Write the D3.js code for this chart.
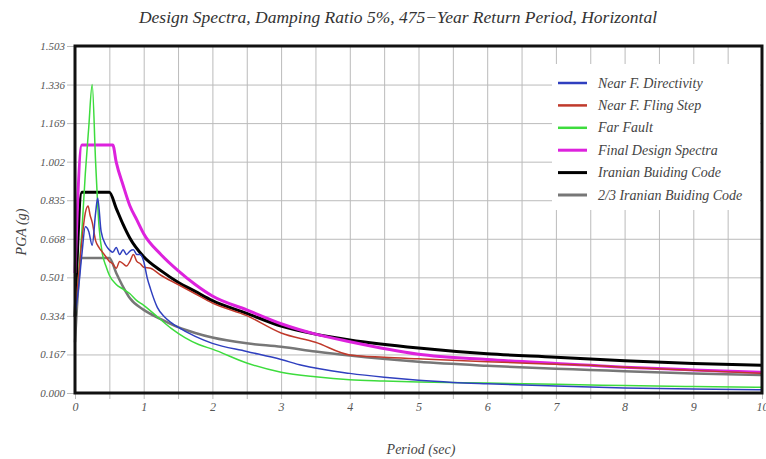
<!DOCTYPE html>
<html>
<head>
<meta charset="utf-8">
<script src="https://cdn.jsdelivr.net/npm/d3@7"></script>
<style>
  body { margin: 0; background: #fff; }
  text { font-family: "Liberation Serif", "DejaVu Serif", serif; font-style: italic; }
</style>
</head>
<body>
<script>
// period values (sec) and spectral values (g)
var periodTicks = [0, 1, 2, 3, 4, 5, 6, 7, 8, 9, 10];
var pgaTicks = [0.000, 0.167, 0.334, 0.501, 0.668, 0.835, 1.002, 1.169, 1.336, 1.503];

var directivityT = [0, 0.05, 0.1, 0.15, 0.2, 0.25, 0.3, 0.33, 0.38, 0.45, 0.5, 0.55, 0.6, 0.65, 0.7, 0.75, 0.8, 0.85, 0.9, 0.95, 1.0, 1.05, 1.1, 1.2, 1.3, 1.4, 1.5, 1.75, 2.0, 2.5, 3.0, 3.3, 4.0, 4.5, 5.0, 5.5, 6.0, 7.0, 8.0, 9.0, 10.0];
var directivityV = [0.34, 0.45, 0.6, 0.72, 0.7, 0.64, 0.78, 0.845, 0.7, 0.64, 0.62, 0.61, 0.63, 0.6, 0.62, 0.6, 0.615, 0.62, 0.6, 0.6, 0.57, 0.5, 0.45, 0.37, 0.33, 0.305, 0.285, 0.245, 0.215, 0.18, 0.145, 0.12, 0.085, 0.068, 0.055, 0.046, 0.04, 0.03, 0.022, 0.017, 0.014];

var flingT = [0, 0.05, 0.1, 0.15, 0.19, 0.22, 0.25, 0.3, 0.35, 0.4, 0.45, 0.5, 0.55, 0.6, 0.65, 0.7, 0.75, 0.8, 0.85, 0.9, 0.95, 1.0, 1.1, 1.25, 1.5, 1.75, 2.0, 2.5, 3.0, 3.5, 4.0, 4.5, 5.0, 6.0, 7.0, 7.5, 8.0, 9.0, 10.0];
var flingV = [0.34, 0.5, 0.66, 0.78, 0.81, 0.77, 0.74, 0.66, 0.63, 0.61, 0.59, 0.57, 0.56, 0.54, 0.57, 0.56, 0.55, 0.57, 0.6, 0.57, 0.56, 0.545, 0.54, 0.51, 0.47, 0.43, 0.39, 0.335, 0.26, 0.22, 0.165, 0.155, 0.148, 0.135, 0.125, 0.12, 0.112, 0.098, 0.085];

var farT = [0, 0.05, 0.1, 0.15, 0.2, 0.25, 0.3, 0.35, 0.4, 0.45, 0.5, 0.6, 0.7, 0.8, 0.9, 1.0, 1.2, 1.4, 1.6, 1.8, 2.0, 2.5, 3.0, 3.5, 4.0, 4.5, 5.0, 6.0, 7.0, 7.5, 8.0, 9.0, 10.0];
var farV = [0.33, 0.5, 0.7, 0.95, 1.15, 1.336, 1.0, 0.72, 0.6, 0.55, 0.51, 0.47, 0.45, 0.43, 0.4, 0.38, 0.33, 0.28, 0.24, 0.21, 0.19, 0.13, 0.09, 0.07, 0.057, 0.052, 0.048, 0.043, 0.038, 0.035, 0.032, 0.028, 0.025];

var finalT = [0, 0.1, 0.55, 0.6, 0.7, 0.8, 0.9, 1.0, 1.25, 1.5, 1.75, 2.0, 2.5, 3.0, 3.5, 4.0, 5.0, 6.0, 7.0, 7.5, 8.0, 9.0, 10.0];
var finalV = [0.52, 1.074, 1.074, 1.0, 0.9, 0.81, 0.75, 0.69, 0.6, 0.53, 0.47, 0.42, 0.36, 0.3, 0.255, 0.222, 0.168, 0.145, 0.128, 0.12, 0.112, 0.1, 0.09];

var iranianT = [0, 0.1, 0.5, 0.6, 0.7, 0.8, 1.0, 1.25, 1.5, 1.75, 2.0, 2.5, 3.0, 3.5, 4.0, 5.0, 6.0, 7.0, 7.5, 8.0, 9.0, 10.0];
var iranianV = [0.33, 0.87, 0.87, 0.8, 0.73, 0.67, 0.59, 0.53, 0.48, 0.44, 0.4, 0.345, 0.29, 0.255, 0.23, 0.195, 0.17, 0.155, 0.147, 0.14, 0.128, 0.12];

var twoThirdT = [0, 0.1, 0.5, 0.6, 0.7, 0.8, 1.0, 1.25, 1.5, 1.75, 2.0, 2.5, 3.0, 3.5, 4.0, 5.0, 6.0, 7.0, 7.5, 8.0, 9.0, 10.0];
var twoThirdV = [0.22, 0.585, 0.585, 0.52, 0.46, 0.41, 0.36, 0.32, 0.285, 0.26, 0.24, 0.215, 0.2, 0.18, 0.162, 0.135, 0.118, 0.105, 0.1, 0.094, 0.085, 0.078];

var seriesNames = ["Near F. Directivity", "Near F. Fling Step", "Far Fault", "Final Design Spectra", "Iranian Buiding Code", "2/3 Iranian Buiding Code"];
var seriesColors = ["#2f3fbf", "#c0392b", "#3ddc3d", "#dd22dd", "#000000", "#777777"];
var seriesWidths = [1.5, 1.5, 1.5, 3, 3, 2.5];

var w = 766;
var h = 459;
var padL = 75, padR = 762, padT = 46, padB = 393;

var svg = d3.select("body").append("svg").attr("width", w).attr("height", h);

var xScale = d3.scaleLinear().domain([0, 10]).range([padL, padR]);
var yScale = d3.scaleLinear().domain([0, 1.503]).range([padB, padT]);

//grid lines
var gridX = d3.range(0, 10.01, 0.5);
svg.append("g")
  .attr("transform", "translate(0," + padB + ")")
  .call(d3.axisBottom(xScale).tickValues(gridX).tickSize(-(padB - padT) - 6).tickFormat(""))
  .call(g => g.select(".domain").remove())
  .call(g => g.selectAll("line").attr("stroke", "#bbb").attr("transform", "translate(0,6)"));

svg.append("g")
  .attr("transform", "translate(" + padL + ",0)")
  .call(d3.axisLeft(yScale).tickValues(pgaTicks).tickSize(-(padR - padL) - 8).tickFormat(""))
  .call(g => g.select(".domain").remove())
  .call(g => g.selectAll("line").attr("stroke", "#bbb").attr("transform", "translate(-8,0)"));

//tick labels
svg.append("g")
  .attr("transform", "translate(" + padL + ",0)")
  .call(d3.axisLeft(yScale).tickValues(pgaTicks).tickSize(0).tickPadding(10).tickFormat(d3.format(".3f")))
  .call(g => g.select(".domain").remove())
  .call(g => g.selectAll("text").attr("font-size", 11).attr("fill", "#555")
    .attr("font-family", "Liberation Serif").attr("font-style", "italic"));

svg.append("g")
  .attr("transform", "translate(0," + padB + ")")
  .call(d3.axisBottom(xScale).tickValues(periodTicks).tickSize(0).tickPadding(9).tickFormat(d3.format("d")))
  .call(g => g.select(".domain").remove())
  .call(g => g.selectAll("text").attr("font-size", 12).attr("fill", "#555")
    .attr("font-family", "Liberation Serif").attr("font-style", "italic"));

//curves
var allT = [directivityT, flingT, farT, finalT, iranianT, twoThirdT];
var allV = [directivityV, flingV, farV, finalV, iranianV, twoThirdV];

var line = d3.line()
  .x(d => xScale(d[0]))
  .y(d => yScale(d[1]))
  .curve(d3.curveMonotoneX);

var drawOrder = [5, 4, 3, 2, 1, 0];
drawOrder.forEach(function (i) {
  var pts = allT[i].map((t, k) => [t, allV[i][k]]);
  svg.append("path")
    .datum(pts)
    .attr("fill", "none")
    .attr("stroke", seriesColors[i])
    .attr("stroke-width", seriesWidths[i])
    .attr("stroke-linejoin", "round")
    .attr("d", line);
});

//frame
svg.append("rect")
  .attr("x", padL).attr("y", padT)
  .attr("width", padR - padL).attr("height", padB - padT)
  .attr("fill", "none").attr("stroke", "#111").attr("stroke-width", 3);

//legend
var lg = svg.append("g");
lg.append("rect")
  .attr("x", 552).attr("y", 64).attr("width", 208).attr("height", 146)
  .attr("fill", "#fff");

seriesNames.forEach(function (name, i) {
  var yy = 83 + i * 22.4;
  lg.append("line")
    .attr("x1", 558).attr("x2", 587).attr("y1", yy).attr("y2", yy)
    .attr("stroke", seriesColors[i]).attr("stroke-width", i >= 3 ? 3 : 2.5);
  lg.append("text")
    .attr("x", 598).attr("y", yy + 4.5)
    .attr("font-size", 14).attr("fill", "#444")
    .text(name);
});

//titles
svg.append("text")
  .attr("x", 398).attr("y", 23)
  .attr("text-anchor", "middle")
  .attr("font-size", 17.5).attr("fill", "#333")
  .text("Design Spectra, Damping Ratio 5%, 475\u2212Year Return Period, Horizontal");

svg.append("text")
  .attr("x", 421).attr("y", 454)
  .attr("text-anchor", "middle")
  .attr("font-size", 14).attr("fill", "#444")
  .text("Period (sec)");

svg.append("text")
  .attr("transform", "translate(26," + 232 + ") rotate(-90)")
  .attr("text-anchor", "middle")
  .attr("font-size", 14).attr("fill", "#444")
  .text("PGA (g)");
</script>
</body>
</html>
